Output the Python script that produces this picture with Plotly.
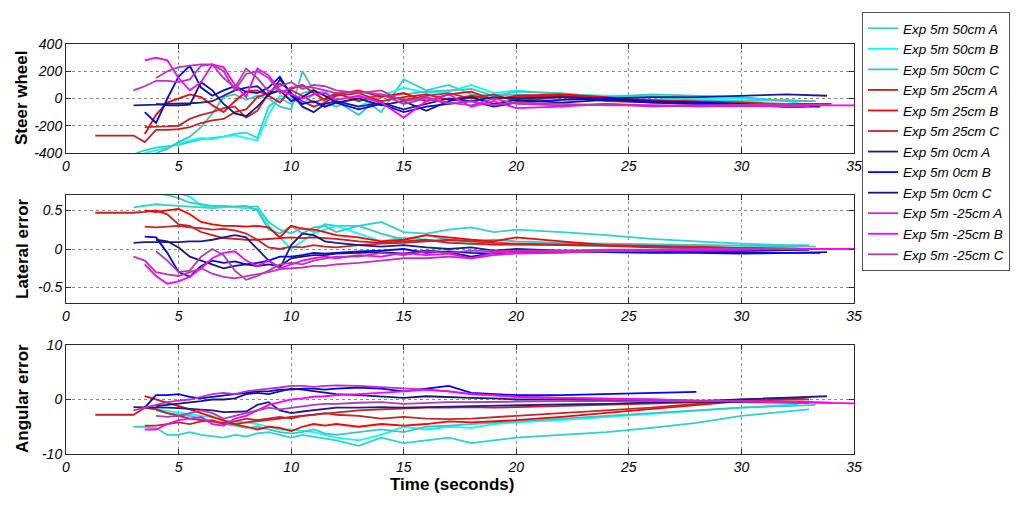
import plotly.graph_objects as go

# ---------------- data ----------------
GRID = [3.0, 3.5, 4.0, 4.5, 5.0, 5.5, 6.0,
        6.5, 7.0, 7.5, 8.0, 8.5, 9.0,
        9.5, 10.0, 10.5, 11.0, 11.5, 12.0,
        13, 14, 15, 16, 17, 18, 19, 20,
        22, 24, 26, 28, 30, 32]
LEAD_25A = [1.3, 2.0, 2.5]

names = ["Exp 5m 50cm A", "Exp 5m 50cm B", "Exp 5m 50cm C",
         "Exp 5m 25cm A", "Exp 5m 25cm B", "Exp 5m 25cm C",
         "Exp 5m 0cm A", "Exp 5m 0cm B", "Exp 5m 0cm C",
         "Exp 5m -25cm A", "Exp 5m -25cm B", "Exp 5m -25cm C"]
colors = ["#2ED0D0", "#00FFFF", "#3CC4C4",
          "#C81E1E", "#FF0000", "#BE282D",
          "#1C1C8C", "#0000FF", "#16167A",
          "#C030C0", "#FF00FF", "#B03CB0"]
starts = [3.0, 3.5, 4.0, 3.0, 3.5, 3.5, 3.0, 3.5, 4.0, 3.0, 3.5, 4.0]
ends = [33.0, 32.5, 33.3, 34.0, 32.8, 33.0, 33.8, 33.5, 33.0, 33.0, 35.0, 32.5]
leads = [[], [], [], LEAD_25A, [], [], [], [], [], [], [], []]

# Steer wheel
steer_50A = [-410, -380, -360, -350, -340, -320, -300,
             -290, -280, -260, -250, -290, -60,
             0, -40, 40, 60, -30, -60,
             20, -100, 140, 60, 100, 30, 20, 30,
             10, 0, 10, -10, -20, -10,
             -20]
steer_50B = [-400, -380, -360, -330, -310, -290,
             -300, -280, -270, -290, -310, -120,
             20, 0, -40, 30, 60, -20,
             -60, 20, 80, 40, 50, 100, 40, 60,
             30, 20, 20, 0, 0, -20,
             -30]
steer_50C = [-400, -370, -320, -280, -210,
             -110, 10, 30, -10, 20, 0,
             -60, -80, 200, 60, 20, -20,
             -120, 20, 30, 50, 60, 70, 20, 50,
             40, 10, 30, 20, 10, -20,
             -20]
steer_25A = [-272, -272, -272,
             -272, -320, -230, -230, -225, -210, -180,
             -160, -150, -100, -80, 10, 40,
             60, 30, -20, -60, -30, 20,
             40, -20, 10, 30, -10, 20, 0, 10,
             20, 0, -10, -20, -30, -40,
             -40]
steer_25B = [-260, -120, -30, 0, 30, 10,
             -50, -100, -20, 50, 60, 20,
             -30, 70, 100, 40, -10, 30,
             60, 10, 40, -20, 30, 50, -10, 20,
             30, 10, -20, -30, -40, -60,
             -60]
steer_25C = [-210, -210, -205, -200, -150, -120,
             -100, -70, -60, -140, -90, 40,
             110, 60, 20, -30, 0, 40,
             -20, 30, -10, 20, 40, 0, 30, -20,
             10, -20, -30, -40, -30, -50,
             -50]
steer_0A = [-50, -50, -45, -40, -40, -35, -30,
            -20, 20, 60, 80, 90, 20,
            140, 40, -60, -100, -40, -20,
            -60, -30, -80, -40, 0, -20, 10, 0,
            10, 0, 10, 10, 20, 30,
            20]
steer_0B = [-100, -180, 0, 160, 240, 80,
            20, 60, 90, 50, 40, 80,
            160, 20, -40, -20, -60, -30,
            -80, -40, -100, -60, -40, -20, -60, -30,
            -10, 0, -20, -30, -40, -60,
            -60]
steer_0C = [-40, -50, -50, -45, 120,
            60, -40, -110, -130, -60, 30,
            60, -20, 10, 60, 20, -30,
            0, -50, -20, -90, -20, 10, -40, -10,
            -30, -10, -30, -40, -50, -60,
            -55]
steer_m25A = [60, 90, 130, 130, 120, 140, 240,
              250, 200, 60, 180, 200, 150,
              40, 80, 90, 80, 60, 40,
              50, 30, -40, 0, -40, -20, -50, -30,
              -40, -50, -50, -60, -55, -60,
              -55]
steer_m25B = [280, 300, 280, 150, 60, 120,
              250, 230, 100, 10, 220, 170,
              60, 30, 0, 30, 40, -10,
              20, -30, -140, -20, 30, -60, -20, -70,
              -60, -40, -50, -50, -50, -50,
              -50]
steer_m25C = [150, 200, 230, 240, 250,
              250, 150, 80, 220, 150, 50,
              90, 120, 70, 100, 90, 60,
              40, 60, -20, 10, -30, -50, 0, -40,
              -50, -40, -60, -55, -50, -40,
              -45]

# Lateral error
lat_50A = [0.54, 0.56, 0.58, 0.57, 0.56, 0.55, 0.54,
           0.53, 0.54, 0.55, 0.55, 0.55, 0.35,
           0.25, 0.20, 0.28, 0.22, 0.32, 0.30,
           0.30, 0.35, 0.22, 0.20, 0.25, 0.28, 0.22, 0.25,
           0.22, 0.18, 0.13, 0.10, 0.07, 0.05,
           0.05]
lat_50B = [0.75, 0.75, 0.74, 0.72, 0.68, 0.56,
           0.55, 0.55, 0.54, 0.53, 0.52, 0.30,
           0.15, 0.00, 0.10, 0.20, 0.25, 0.30,
           0.20, 0.10, 0.15, 0.12, 0.10, 0.06, 0.05, 0.05,
           0.05, 0.04, 0.03, 0.02, 0.02, 0.03,
           0.03]
lat_50C = [0.72, 0.70, 0.66, 0.60, 0.58,
           0.56, 0.56, 0.55, 0.56, 0.50, 0.25,
           0.20, 0.30, 0.20, 0.28, 0.30, 0.22,
           0.30, 0.20, 0.12, 0.18, 0.12, 0.10, 0.12, 0.10,
           0.08, 0.07, 0.06, 0.05, 0.04, 0.03,
           0.03]
lat_25A = [0.47, 0.47, 0.47,
           0.47, 0.48, 0.50, 0.45, 0.32, 0.30, 0.22,
           0.18, 0.14, 0.13, 0.12, 0.12, 0.13,
           0.14, 0.15, 0.14, 0.15, 0.14, 0.13,
           0.10, 0.08, 0.10, 0.12, 0.08, 0.07, 0.06, 0.06,
           0.05, 0.04, 0.02, 0.01, 0.00, 0.00,
           0.00]
lat_25B = [0.50, 0.48, 0.50, 0.52, 0.45, 0.35,
           0.32, 0.30, 0.30, 0.29, 0.30, 0.28,
           0.15, 0.30, 0.26, 0.25, 0.22, 0.18,
           0.15, 0.10, 0.12, 0.18, 0.15, 0.12, 0.10, 0.15,
           0.10, 0.05, 0.04, 0.03, 0.01, 0.00,
           0.00]
lat_25C = [0.29, 0.28, 0.29, 0.30, 0.28, 0.27,
           0.25, 0.26, 0.24, 0.20, 0.12, 0.02,
           0.00, 0.03, 0.02, 0.05, 0.03, 0.02,
           0.05, 0.07, 0.08, 0.10, 0.12, 0.10, 0.08, 0.07,
           0.06, 0.05, 0.03, 0.02, 0.01, 0.00,
           0.00]
lat_0A = [0.08, 0.09, 0.09, 0.09, 0.09, 0.10, 0.10,
          0.12, 0.15, 0.18, 0.15, 0.00, -0.15,
          -0.25, 0.05, 0.20, 0.18, 0.10, 0.08,
          0.05, 0.03, 0.05, 0.02, 0.00, 0.02, -0.02, 0.00,
          -0.02, -0.03, -0.03, -0.04, -0.04, -0.05,
          -0.04]
lat_0B = [0.16, 0.15, -0.05, -0.30, -0.36, -0.22,
          -0.15, -0.18, -0.16, -0.20, -0.18, -0.15,
          -0.10, -0.10, -0.08, -0.05, -0.06, -0.05,
          -0.03, -0.02, 0.00, -0.05, -0.03, -0.05, -0.06, -0.03,
          -0.04, -0.04, -0.05, -0.05, -0.06, -0.05,
          -0.05]
lat_0C = [0.12, 0.10, 0.02, -0.10, -0.15,
          -0.20, -0.25, -0.22, -0.20, -0.22, -0.20,
          -0.22, -0.12, -0.10, -0.08, -0.08, -0.06,
          -0.05, -0.04, -0.06, -0.02, -0.04, -0.10, -0.05, -0.04,
          -0.04, -0.02, -0.03, -0.02, -0.02, -0.01,
          -0.01]
lat_m25A = [-0.10, -0.15, -0.30, -0.33, -0.35, -0.30, -0.25,
            -0.32, -0.36, -0.38, -0.35, -0.32, -0.30,
            -0.26, -0.25, -0.24, -0.22, -0.22, -0.20,
            -0.18, -0.15, -0.12, -0.12, -0.10, -0.12, -0.08, -0.06,
            -0.05, -0.03, -0.02, -0.01, 0.00, 0.00,
            0.00]
lat_m25B = [-0.20, -0.35, -0.45, -0.42, -0.36, -0.25,
            -0.12, -0.05, -0.03, -0.15, -0.22, -0.15,
            -0.25, -0.20, -0.15, -0.12, -0.10, -0.12,
            -0.08, -0.10, -0.05, -0.08, -0.06, -0.12, -0.05, -0.04,
            -0.03, -0.02, -0.02, -0.01, -0.01, 0.00,
            0.00]
lat_m25C = [-0.03, -0.15, -0.30, -0.28, -0.10,
            0.00, -0.08, -0.28, -0.40, -0.35, -0.28,
            -0.20, -0.18, -0.20, -0.15, -0.12, -0.10,
            -0.10, -0.05, -0.08, -0.03, -0.05, -0.02, -0.03, -0.02,
            -0.02, -0.01, -0.01, 0.00, 0.00, 0.00,
            0.00]

# Angular error
ang_50A = [-5.0, -5.0, -5.2, -6.5, -6.5, -6.0, -6.5,
           -6.8, -7.0, -6.5, -6.8, -6.2, -6.0,
           -6.5, -7.0, -6.5, -6.8, -7.2, -7.5,
           -8.5, -7.0, -8.0, -7.5, -7.0, -8.0, -7.5, -7.0,
           -6.5, -6.0, -5.2, -4.3, -3.0, -2.2,
           -1.8]
ang_50B = [-1.5, -1.8, -2.2, -2.5, -2.8, -3.0,
           -3.3, -3.8, -4.0, -4.2, -4.5, -5.0,
           -5.5, -5.5, -5.8, -6.0, -6.5, -7.0,
           -7.5, -6.5, -5.0, -5.5, -5.0, -5.2, -4.5, -4.2,
           -3.8, -3.2, -2.6, -2.0, -1.5, -1.0,
           -0.9]
ang_50C = [-2.0, -2.5, -2.8, -3.0, -3.5,
           -4.0, -4.5, -4.8, -5.2, -5.0, -5.5,
           -6.0, -6.2, -6.0, -5.5, -6.2, -6.5,
           -6.0, -5.5, -6.0, -5.0, -4.8, -4.5, -4.2, -4.0,
           -3.5, -3.0, -2.5, -2.0, -1.5, -1.2,
           -1.0]
ang_25A = [-2.8, -2.8, -2.8,
           -2.8, -1.5, -1.8, -2.5, -3.0, -3.5, -3.8,
           -4.0, -4.2, -4.5, -4.2, -4.0, -3.8,
           -3.5, -3.2, -3.0, -2.8, -2.5, -2.3,
           -2.0, -1.8, -1.6, -1.5, -1.5, -1.4, -1.5, -1.4,
           -1.2, -1.0, -0.8, -0.5, -0.3, -0.4,
           -0.6]
ang_25B = [0.6, 0.0, -0.5, -1.2, -1.8, -2.5,
           -3.2, -3.8, -4.5, -5.0, -5.5, -5.0,
           -5.2, -5.8, -5.0, -4.5, -4.8, -4.5,
           -5.0, -4.5, -4.8, -4.5, -4.0, -4.2, -4.0, -3.8,
           -3.2, -2.5, -1.8, -1.0, -0.3, 0.0,
           0.0]
ang_25C = [-4.8, -4.8, -4.5, -4.2, -4.5, -4.0,
           -3.8, -4.5, -4.0, -3.5, -3.8, -3.5,
           -3.2, -3.5, -3.0, -2.8, -2.5, -2.8,
           -3.0, -3.5, -3.2, -3.5, -3.6, -3.5, -3.2, -3.0,
           -2.5, -2.0, -1.5, -0.8, 0.0, 0.3,
           0.0]
ang_0A = [-1.4, -1.4, -1.5, -1.5, -1.6, -1.7, -1.8,
          -2.0, -2.3, -2.3, -2.2, -1.0, -0.5,
          -2.0, -2.5, -2.2, -2.0, -1.8, -1.5,
          -1.5, -1.4, -1.5, -1.4, -1.3, -1.2, -1.2, -1.0,
          -0.9, -0.8, -0.6, -0.3, 0.0, 0.3,
          0.6]
ang_0B = [-1.5, 0.8, 0.8, 1.0, 0.5, 0.2,
          0.5, 0.8, 1.0, 1.2, 1.5, 1.5,
          1.8, 1.8, 2.0, 2.0, 1.8, 2.0,
          2.2, 2.0, 1.5, 2.0, 2.5, 1.2, 1.0, 0.8,
          0.8, 1.0, 1.2, 1.4, None, None,
          None]
ang_0C = [-1.2, -1.0, -0.8, -0.5, -0.3,
          0.0, 0.0, 0.2, 1.0, 1.2, 1.0,
          1.5, 2.0, 1.8, 1.5, 1.2, 1.0,
          0.8, 0.5, 0.3, 0.6, 0.4, 0.3, 0.2, 0.0,
          0.0, -0.2, -0.3, -0.4, -0.5, -0.6,
          -0.6]
ang_m25A = [-2.0, -1.5, -1.0, -0.5, -0.2, 0.0, 0.5,
            1.0, 1.2, 1.0, 1.5, 1.8, 2.0,
            2.2, 2.5, 2.5, 2.3, 2.5, 2.6,
            2.5, 2.3, 2.0, 1.8, 1.5, 1.0, 0.8, 0.5,
            0.3, 0.2, 0.0, -0.2, -0.3, -0.5,
            -0.6]
ang_m25B = [-5.5, -5.5, -4.5, -3.8, -3.5, -3.2,
            -4.5, -4.8, -3.5, -3.0, -2.0, -1.0,
            -0.5, 0.0, 0.2, 0.5, 0.6, 0.8,
            1.0, 1.2, 1.5, 1.8, 1.5, 1.0, 0.8, 0.5,
            0.3, 0.2, 0.0, -0.2, -0.4, -0.5,
            -0.7]
ang_m25C = [-3.0, -3.2, -3.0, -2.5, -2.0,
            -2.5, -3.5, -3.0, -2.5, -2.0, -1.5,
            -1.8, -1.5, -1.2, -1.0, -0.8, -0.8,
            -0.6, -0.5, -0.8, -0.6, -0.5, -0.5, -0.4, -0.4,
            -0.3, -0.3, -0.2, -0.2, -0.3, -0.4,
            -0.5]

steer = [steer_50A, steer_50B, steer_50C, steer_25A, steer_25B, steer_25C,
         steer_0A, steer_0B, steer_0C, steer_m25A, steer_m25B, steer_m25C]
lateral = [lat_50A, lat_50B, lat_50C, lat_25A, lat_25B, lat_25C,
           lat_0A, lat_0B, lat_0C, lat_m25A, lat_m25B, lat_m25C]
angular = [ang_50A, ang_50B, ang_50C, ang_25A, ang_25B, ang_25C,
           ang_0A, ang_0B, ang_0C, ang_m25A, ang_m25B, ang_m25C]

x_ticks = [0, 5, 10, 15, 20, 25, 30, 35]
steer_ticks = [-400, -200, 0, 200, 400]
lat_ticks = [-0.5, 0, 0.5]
ang_ticks = [-10, 0, 10]

# ---------------- figure ----------------
W, H = 1024, 506
OFF = 8  # page body margin offset compensation (px)
fig = go.Figure()

for i, name in enumerate(names):
    t = leads[i] + GRID[GRID.index(starts[i]):] + [ends[i]]
    for k, (vals, ax) in enumerate([(steer[i], "1"), (lateral[i], "2"), (angular[i], "3")]):
        n = min(len(t), len(vals))
        fig.add_trace(go.Scatter(
            x=t[:n], y=vals[:n], mode="lines", name=name,
            line=dict(color=colors[i], width=1.8),
            xaxis="x" if ax == "1" else "x" + ax,
            yaxis="y" if ax == "1" else "y" + ax,
            showlegend=(k == 0), legendgroup=name,
        ))

font_family = "Liberation Sans, Arial, sans-serif"
tickfont = dict(family=font_family, size=14, color="black", style="italic")

def axis_common():
    return dict(showline=True, linecolor="#2b2b2b", linewidth=1, mirror="allticks",
                ticks="inside", ticklen=5, tickcolor="#2b2b2b",
                showgrid=True, gridcolor="#8a8a8a", griddash="dot", gridwidth=1,
                zeroline=False, tickfont=tickfont, automargin=False)

def fx(px):
    return (px - OFF) / W

def fy(py):
    return 1 - (py - OFF) / H

x_dom = [fx(66), fx(854)]
y_doms = [[fy(153), fy(44)], [fy(303), fy(195)], [fy(454), fy(345)]]

layout = dict(
    width=W, height=H, paper_bgcolor="white", plot_bgcolor="white",
    margin=dict(l=0, r=0, t=0, b=0, autoexpand=False),
    font=dict(family=font_family, color="black"),
    showlegend=True,
    legend=dict(x=fx(862), y=fy(12), xanchor="left", yanchor="top",
                bgcolor="white", bordercolor="#555555", borderwidth=1,
                font=dict(family=font_family, size=13.5, color="black", style="italic"),
                itemwidth=30, tracegroupgap=0, traceorder="normal"),
)
y_ranges = [[-400, 400], [-0.7, 0.7], [-10, 10]]
y_tickvals = [steer_ticks, lat_ticks, ang_ticks]
for j in range(3):
    sx = "xaxis" if j == 0 else f"xaxis{j+1}"
    sy = "yaxis" if j == 0 else f"yaxis{j+1}"
    ya = "y" if j == 0 else f"y{j+1}"
    xa = "x" if j == 0 else f"x{j+1}"
    layout[sx] = dict(axis_common(), domain=x_dom, range=[0, 35], anchor=ya,
                      tickvals=x_ticks, ticktext=[str(v) for v in x_ticks])
    layout[sy] = dict(axis_common(), domain=y_doms[j], range=y_ranges[j], anchor=xa,
                      tickvals=y_tickvals[j], ticktext=[str(v) for v in y_tickvals[j]])

fig.update_layout(**layout)

titles = [("Steer wheel", 98), ("Lateral error", 249), ("Angular error", 399)]
for text, yc in titles:
    fig.add_annotation(text="<b>" + text + "</b>", xref="paper", yref="paper",
                       x=fx(22), y=fy(yc), xanchor="center", yanchor="middle",
                       textangle=-90, showarrow=False,
                       font=dict(family=font_family, size=17, color="black"))
fig.add_annotation(text="<b>Time (seconds)</b>", xref="paper", yref="paper",
                   x=fx(452), y=fy(484), xanchor="center", yanchor="middle",
                   showarrow=False, font=dict(family=font_family, size=17, color="black"))

fig.write_html("out.html")
